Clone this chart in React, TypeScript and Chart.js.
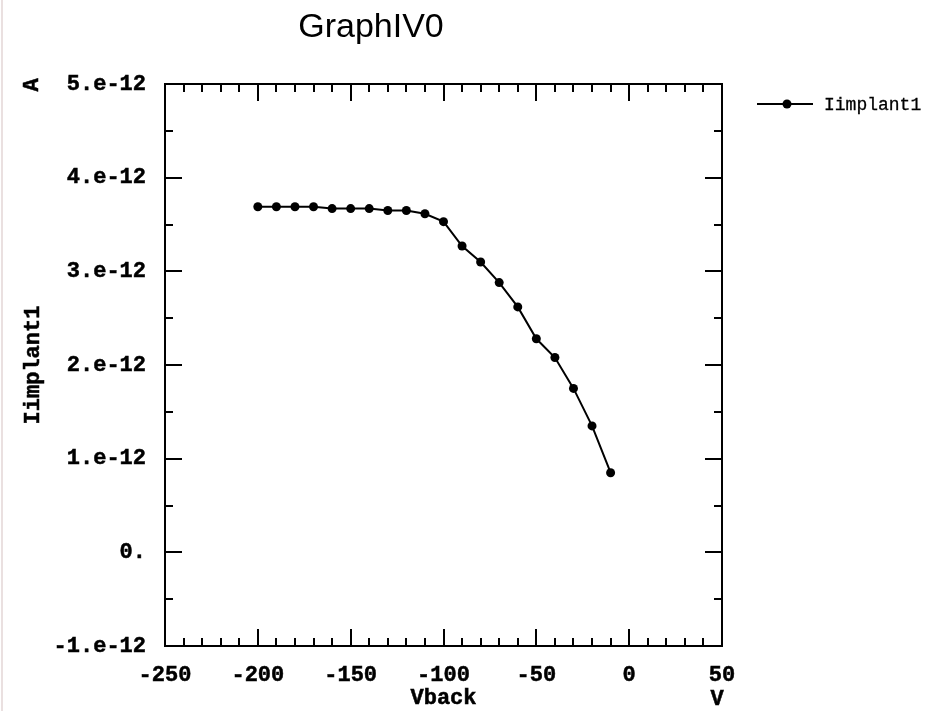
import React, { useEffect, useRef } from "react";
import { Chart, registerables } from "chart.js";

Chart.register(...registerables);

// ---- data ----
const vback = [-200, -190, -180, -170, -160, -150, -140, -130, -120, -110, -100, -90, -80, -70, -60, -50, -40, -30, -20, -10];
const iimplant1 = [
  3.69e-12, 3.69e-12, 3.69e-12, 3.69e-12, 3.67e-12, 3.67e-12, 3.67e-12, 3.65e-12, 3.65e-12, 3.615e-12,
  3.53e-12, 3.27e-12, 3.10e-12, 2.88e-12, 2.62e-12, 2.28e-12, 2.08e-12, 1.75e-12, 1.35e-12, 0.85e-12,
];
const xTickValues = [-250, -200, -150, -100, -50, 0, 50];
const xTickLabels = ["-250", "-200", "-150", "-100", "-50", "0", "50"];
const yTickValues = [-1e-12, 0, 1e-12, 2e-12, 3e-12, 4e-12, 5e-12];
const yTickLabels = ["-1.e-12", "0.", "1.e-12", "2.e-12", "3.e-12", "4.e-12", "5.e-12"];
const xMinorStep = 10;
const yMinorStep = 0.5e-12;

const chartTitle = "GraphIV0";
const xTitle = "Vback";
const xUnit = "V";
const yTitle = "Iimplant1";
const yUnit = "A";
const seriesName = "Iimplant1";

const MONO_BOLD = { family: "'Liberation Mono', 'Courier New', monospace", size: 22, weight: "bold" as const };
const MONO_BOLD_CSS = "bold 22px 'Liberation Mono', 'Courier New', monospace";
const STROKE = 0.5;

function heavyText(ctx: CanvasRenderingContext2D, text: string, x: number, y: number) {
  ctx.lineWidth = STROKE;
  ctx.strokeStyle = "#000";
  ctx.strokeText(text, x, y);
  ctx.fillText(text, x, y);
}

const decorPlugin = {
  id: "decor",
  afterDraw(chart: any) {
    const { ctx, chartArea } = chart;
    const { left, right, top, bottom } = chartArea;
    const xs = chart.scales.x;
    const ys = chart.scales.y;
    ctx.save();
    ctx.strokeStyle = "#000";
    ctx.fillStyle = "#000";
    ctx.lineWidth = 2;
    // frame
    ctx.strokeRect(left, top, right - left, bottom - top);

    const MAJ = 17;
    const MIN = 8;
    const near = (a: number, b: number, eps: number) => Math.abs(a - b) < eps;
    ctx.beginPath();
    // x ticks (bottom and top, pointing inward)
    for (let v = xs.min; v <= xs.max + 1e-9; v += xMinorStep) {
      if (near(v, xs.min, 1e-9) || near(v, xs.max, 1e-9)) continue;
      const isMajor = xTickValues.some((t) => near(t, v, 1e-6));
      const len = isMajor ? MAJ : MIN;
      const px = Math.round(xs.getPixelForValue(v));
      ctx.moveTo(px, bottom);
      ctx.lineTo(px, bottom - len);
      ctx.moveTo(px, top);
      ctx.lineTo(px, top + len);
    }
    // y ticks (left and right, pointing inward)
    for (let v = ys.min; v <= ys.max + 1e-20; v += yMinorStep) {
      if (near(v, ys.min, 1e-20) || near(v, ys.max, 1e-20)) continue;
      const isMajor = yTickValues.some((t) => near(t, v, 1e-18));
      const len = isMajor ? MAJ : MIN;
      const py = Math.round(ys.getPixelForValue(v));
      ctx.moveTo(left, py);
      ctx.lineTo(left + len, py);
      ctx.moveTo(right, py);
      ctx.lineTo(right - len, py);
    }
    ctx.stroke();

    // title
    ctx.font = "34px 'Liberation Sans', Arial, sans-serif";
    ctx.textAlign = "center";
    ctx.textBaseline = "alphabetic";
    ctx.fillText(chartTitle, 371, 37);

    // axis titles and units
    ctx.font = MONO_BOLD_CSS;
    ctx.textAlign = "center";
    ctx.textBaseline = "middle";
    heavyText(ctx, xTitle, (left + right) / 2, 698);
    heavyText(ctx, xUnit, 717, 699);
    ctx.save();
    ctx.translate(33, (top + bottom) / 2);
    ctx.rotate(-Math.PI / 2);
    heavyText(ctx, yTitle, 0, 0);
    ctx.restore();
    ctx.save();
    ctx.translate(32, 85);
    ctx.rotate(-Math.PI / 2);
    heavyText(ctx, yUnit, 0, 0);
    ctx.restore();

    // legend
    const ds = chart.data.datasets[0];
    ctx.strokeStyle = ds.borderColor;
    ctx.lineWidth = 2;
    ctx.beginPath();
    ctx.moveTo(757, 104);
    ctx.lineTo(813, 104);
    ctx.stroke();
    ctx.beginPath();
    ctx.arc(787, 104, 4.5, 0, Math.PI * 2);
    ctx.fillStyle = ds.pointBackgroundColor;
    ctx.fill();
    ctx.fillStyle = "#000";
    ctx.font = "18px 'Liberation Mono', 'Courier New', monospace";
    ctx.textAlign = "left";
    ctx.textBaseline = "middle";
    ctx.lineWidth = 0.3;
    ctx.strokeStyle = "#000";
    ctx.strokeText(ds.label, 824, 105);
    ctx.fillText(ds.label, 824, 105);
    ctx.restore();
  },
};

export default function App() {
  const ref = useRef<HTMLCanvasElement>(null);
  useEffect(() => {
    if (!ref.current) return;
    const chart = new Chart(ref.current, {
      type: "line",
      data: {
        datasets: [
          {
            label: seriesName,
            data: vback.map((x, i) => ({ x, y: iimplant1[i] })),
            borderColor: "#000",
            borderWidth: 2,
            pointRadius: 4.5,
            pointBorderWidth: 0,
            pointBackgroundColor: "#000",
            pointBorderColor: "#000",
            tension: 0,
            fill: false,
          },
        ],
      },
      options: {
        responsive: false,
        animation: false,
        events: [],
        layout: { padding: { left: 0, top: 84, right: 204, bottom: 0 } },
        plugins: {
          legend: { display: false },
          title: { display: false },
          tooltip: { enabled: false },
        },
        scales: {
          x: {
            type: "linear",
            position: "bottom",
            min: -250,
            max: 50,
            afterBuildTicks: (s: any) => {
              s.ticks = xTickValues.map((value) => ({ value }));
            },
            afterFit: (s: any) => {
              s.height = 65;
            },
            ticks: {
              autoSkip: false,
              maxRotation: 0,
              padding: 16,
              color: "#000",
              textStrokeColor: "#000",
              textStrokeWidth: STROKE,
              font: MONO_BOLD,
              callback: (_v: any, i: number) => xTickLabels[i],
            },
            grid: { display: false, drawTicks: false, tickLength: 0 },
            border: { display: false },
            title: { display: false, text: xTitle },
          },
          y: {
            type: "linear",
            position: "left",
            min: -1e-12,
            max: 5e-12,
            afterBuildTicks: (s: any) => {
              s.ticks = yTickValues.map((value) => ({ value }));
            },
            afterFit: (s: any) => {
              s.width = 165;
            },
            ticks: {
              autoSkip: false,
              padding: 19,
              color: "#000",
              textStrokeColor: "#000",
              textStrokeWidth: STROKE,
              font: MONO_BOLD,
              callback: (_v: any, i: number) => yTickLabels[i],
            },
            grid: { display: false, drawTicks: false, tickLength: 0 },
            border: { display: false },
            title: { display: false, text: yTitle },
          },
        },
      },
      plugins: [decorPlugin],
    } as any);
    return () => chart.destroy();
  }, []);

  return (
    <div style={{ position: "absolute", left: 0, top: 0, width: 926, height: 711, background: "#fff", overflow: "hidden" }}>
      <div style={{ position: "absolute", left: 1, top: 0, width: 2, height: 711, background: "#eae0e0" }} />
      <canvas
        ref={ref}
        width={926}
        height={711}
        style={{ position: "absolute", left: 0, top: 0, width: 926, height: 711 }}
      />
    </div>
  );
}
